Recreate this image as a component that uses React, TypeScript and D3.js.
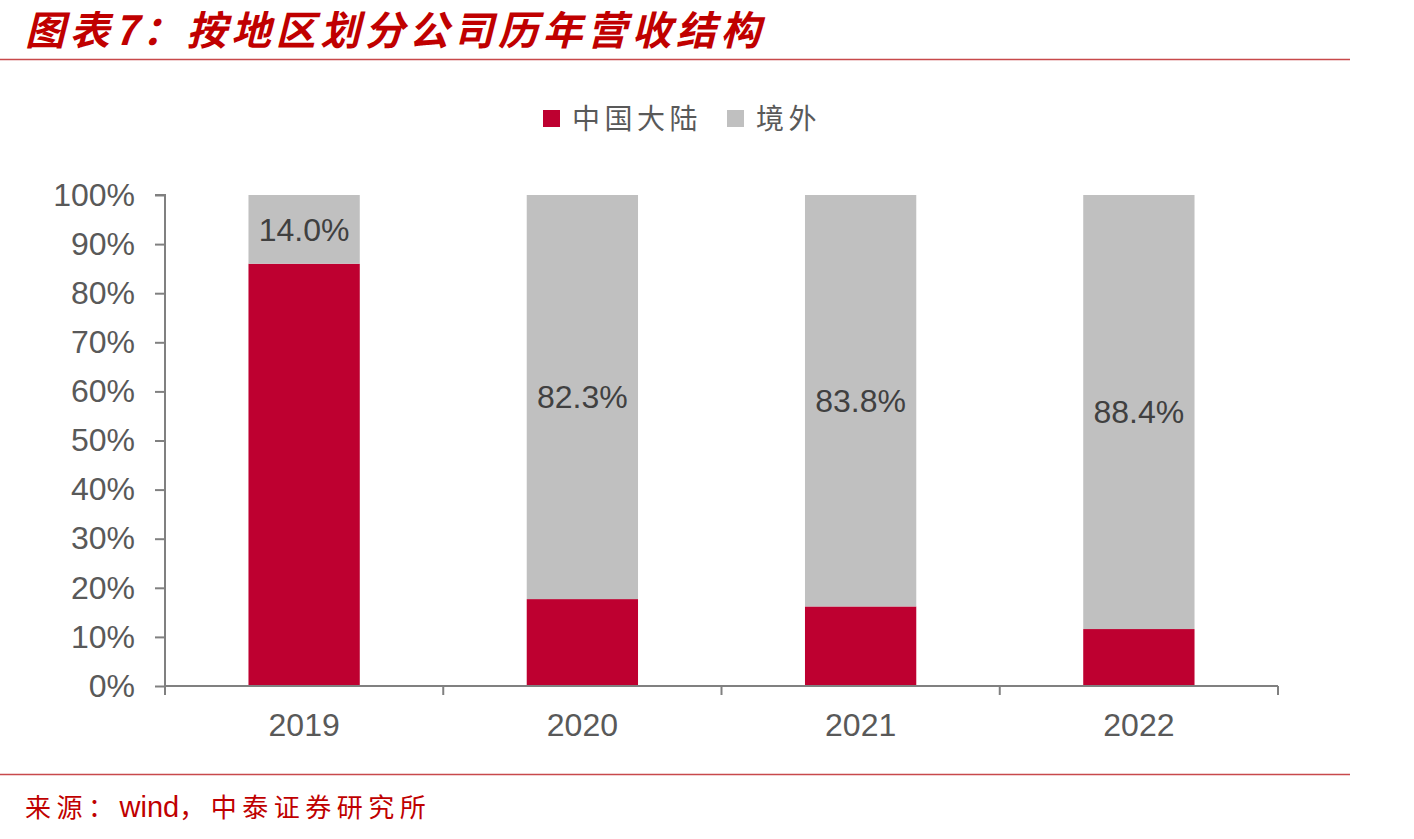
import { useEffect, useRef } from 'react';
import * as d3 from 'd3';

const years = ['2019', '2020', '2021', '2022'];
const mainland = [86.0, 17.7, 16.2, 11.6];
const overseas = [14.0, 82.3, 83.8, 88.4];
const seriesNames = ['中国大陆', '境外'];
const yTicks = [0, 10, 20, 30, 40, 50, 60, 70, 80, 90, 100];

const RED = '#BE0030';
const GRAY = '#C0C0C0';
const AXIS = '#808080';
const TEXT = '#595959';
const BRAND = '#C00000';
const NUM_FONT = '"Liberation Sans", Arial, sans-serif';
const CJK_FONT = '"Noto Sans CJK SC", sans-serif';

export default function App() {
  const svgRef = useRef<SVGSVGElement>(null);

  useEffect(() => {
    if (!svgRef.current) return;
    const svg = d3.select(svgRef.current);
    svg.selectAll('*').remove();

    const W = 1414, H = 839;
    const left = 165, right = 1278, top = 195, bottom = 686;

    // header
    svg.append('text')
      .attr('x', 25).attr('y', 45)
      .attr('font-family', CJK_FONT)
      .attr('font-weight', 700).attr('font-style', 'italic')
      .attr('font-size', 40).attr('letter-spacing', 4.5).attr('fill', BRAND)
      .text('图表7：按地区划分公司历年营收结构');
    svg.append('line')
      .attr('x1', 0).attr('x2', 1350).attr('y1', 59.5).attr('y2', 59.5)
      .attr('stroke', '#C8494B').attr('stroke-width', 1.5);

    // legend
    const legend = svg.append('g').attr('font-family', CJK_FONT);
    const legendItems = [
      { name: seriesNames[0], color: RED, x: 543 },
      { name: seriesNames[1], color: GRAY, x: 727 },
    ];
    legendItems.forEach(it => {
      legend.append('rect').attr('x', it.x).attr('y', 110).attr('width', 17).attr('height', 17).attr('fill', it.color);
      legend.append('text').attr('x', it.x + 29).attr('y', 129)
        .attr('font-size', 28).attr('fill', TEXT).attr('letter-spacing', 4.5).text(it.name);
    });

    const x = d3.scaleBand<string>().domain(years).range([left, right]).paddingInner(0).paddingOuter(0);
    const y = d3.scaleLinear().domain([0, 100]).range([bottom, top]);
    const barW = x.bandwidth() * 0.4;
    const bx = (yr: string) => (x(yr) ?? 0) + (x.bandwidth() - barW) / 2;

    const g = svg.append('g');

    // stacked bars
    years.forEach((yr, i) => {
      g.append('rect')
        .attr('x', bx(yr)).attr('width', barW)
        .attr('y', y(mainland[i])).attr('height', y(0) - y(mainland[i]))
        .attr('fill', RED);
      g.append('rect')
        .attr('x', bx(yr)).attr('width', barW)
        .attr('y', y(mainland[i] + overseas[i])).attr('height', y(mainland[i]) - y(mainland[i] + overseas[i]))
        .attr('fill', GRAY);
      g.append('text')
        .attr('x', (x(yr) ?? 0) + x.bandwidth() / 2)
        .attr('y', (y(mainland[i]) + y(mainland[i] + overseas[i])) / 2)
        .attr('dy', '0.35em').attr('text-anchor', 'middle')
        .attr('font-family', NUM_FONT)
        .attr('font-size', 32).attr('fill', '#404040')
        .text(overseas[i].toFixed(1) + '%');
    });

    // y axis
    const yAxis = g.append('g').attr('transform', `translate(${left},0)`)
      .call(d3.axisLeft(y).tickValues(yTicks).tickSize(10).tickPadding(20).tickFormat(d => `${d}%`));
    yAxis.select('.domain').attr('stroke', AXIS).attr('stroke-width', 2).attr('d', `M-10,${top}H0V${bottom}`);
    yAxis.selectAll('.tick line').attr('stroke', AXIS).attr('stroke-width', 2);
    yAxis.selectAll('.tick text')
      .attr('font-family', NUM_FONT)
      .attr('font-size', 32).attr('fill', TEXT);

    // x axis
    const xAxis = g.append('g').attr('transform', `translate(0,${bottom})`)
      .call(d3.axisBottom(x).tickSize(0).tickPadding(27));
    xAxis.select('.domain').attr('stroke', AXIS).attr('stroke-width', 2).attr('d', `M${left},0H${right}`);
    xAxis.selectAll('.tick text')
      .attr('font-family', NUM_FONT)
      .attr('font-size', 32).attr('fill', TEXT);
    const bounds = [...years.map(yr => x(yr) ?? 0), right];
    xAxis.selectAll('line.sep').data(bounds).join('line').attr('class', 'sep')
      .attr('x1', d => d).attr('x2', d => d).attr('y1', 0).attr('y2', 9)
      .attr('stroke', AXIS).attr('stroke-width', 2);

    // footer
    svg.append('line')
      .attr('x1', 0).attr('x2', 1350).attr('y1', 774.5).attr('y2', 774.5)
      .attr('stroke', '#C8494B').attr('stroke-width', 1.5);
    const foot = svg.append('text').attr('x', 25).attr('y', 817)
      .attr('font-family', CJK_FONT)
      .attr('font-size', 26).attr('letter-spacing', 5.5).attr('fill', BRAND);
    foot.append('tspan').text('来源：');
    foot.append('tspan').attr('font-family', NUM_FONT).attr('font-size', 29).attr('letter-spacing', 0).text('wind');
    foot.append('tspan').text('，中泰证券研究所');

    svg.attr('width', W).attr('height', H);
  }, []);

  return (
    <div style={{ position: 'absolute', left: 0, top: 0, background: '#fff' }}>
      <svg ref={svgRef} width={1414} height={839} style={{ display: 'block' }} />
    </div>
  );
}
